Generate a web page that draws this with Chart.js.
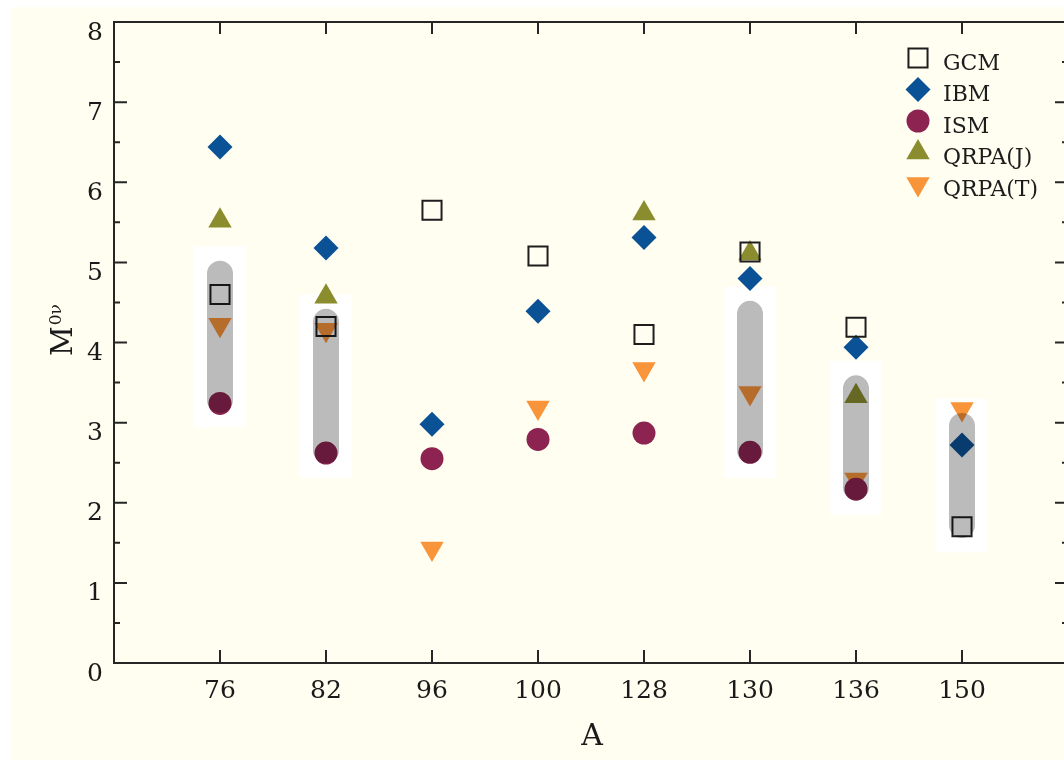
<!DOCTYPE html>
<html>
<head>
<meta charset="utf-8">
<title>M0v vs A</title>
<script src="https://cdn.jsdelivr.net/npm/chart.js@4/dist/chart.umd.min.js"></script>
<style>
  html, body { margin: 0; padding: 0; background: #ffffff; overflow: hidden; }
  #wrap { position: absolute; left: 0; top: 0; width: 1075px; height: 760px; }
</style>
</head>
<body>
<div id="wrap"><canvas id="chart" width="1075" height="760"></canvas></div>
<script>
// 質量数 A（横軸カテゴリ）
const categories = ['76', '82', '96', '100', '128', '130', '136', '150'];

// 各模型の M0v 値
const gcm   = [4.60, 4.20, 5.65, 5.08, 4.10, 5.13, 4.19, 1.70];
const ibm   = [6.44, 5.18, 2.98, 4.39, 5.31, 4.80, 3.94, 2.72];
const ism   = [3.24, 2.62, 2.55, 2.79, 2.87, 2.63, 2.17, null];
const qrpaJ = [5.52, 4.57, null, null, 5.61, 5.11, 3.33, null];
const qrpaT = [4.22, 4.16, 1.43, 3.19, 3.67, 3.37, 2.29, 3.17];

// 灰色の帯（範囲）
const bandLow  = [3.12, 2.49, null, null, null, 2.49, 2.03, 1.56];
const bandHigh = [5.02, 4.42, null, null, null, 4.52, 3.59, 3.12];

// 縦軸目盛
const yTicks = [0, 1, 2, 3, 4, 5, 6, 7, 8];

const WHITE_PAD = 0.18;
const SERIF = "'DejaVu Serif', 'Liberation Serif', serif";

function toPoints(values) {
  return categories
    .map((c, i) => ({ x: c, y: values[i] }))
    .filter(p => p.y !== null);
}

function toRanges(lo, hi, pad) {
  return categories
    .map((c, i) => (lo[i] === null ? null : { x: c, y: [lo[i] - pad, hi[i] + pad] }))
    .filter(p => p !== null);
}

// 背景（クリーム色）
const backgroundPlugin = {
  id: 'paper',
  beforeDraw(chart) {
    const ctx = chart.ctx;
    ctx.save();
    ctx.fillStyle = '#fffef1';
    ctx.fillRect(12, 7, chart.width - 12, chart.height - 7);
    ctx.restore();
  }
};

// 帯は乗算で重ねる
const blendPlugin = {
  id: 'blend',
  beforeDatasetDraw(chart, args) {
    if (chart.data.datasets[args.index].isBand) {
      chart.ctx.save();
      chart.ctx.globalCompositeOperation = 'multiply';
    }
  },
  afterDatasetDraw(chart, args) {
    if (chart.data.datasets[args.index].isBand) {
      chart.ctx.restore();
    }
  }
};

// 枠と内向きの目盛
const framePlugin = {
  id: 'frame',
  afterDraw(chart) {
    const { ctx, chartArea: a, scales } = chart;
    const x = scales.x, y = scales.y;
    ctx.save();
    ctx.strokeStyle = '#262626';
    ctx.lineWidth = 2;
    ctx.beginPath();
    ctx.rect(a.left, a.top, a.right - a.left, a.bottom - a.top);
    ctx.stroke();

    ctx.beginPath();
    for (let v = y.min; v <= y.max; v += 0.5) {
      const py = y.getPixelForValue(v);
      const len = Number.isInteger(v) ? 13 : 6;
      ctx.moveTo(a.left, py); ctx.lineTo(a.left + len, py);
      ctx.moveTo(a.right, py); ctx.lineTo(a.right - len, py);
    }
    categories.forEach(c => {
      const px = x.getPixelForValue(chart.data.labels.indexOf(c));
      ctx.moveTo(px, a.bottom); ctx.lineTo(px, a.bottom - 13);
      ctx.moveTo(px, a.top); ctx.lineTo(px, a.top + 12);
    });
    ctx.stroke();

    // 軸タイトル
    ctx.fillStyle = '#1a1a1a';
    ctx.textAlign = 'center';
    ctx.textBaseline = 'middle';
    ctx.font = '30px ' + SERIF;
    ctx.fillText('A', (a.left + a.right) / 2 + 1, 737);

    ctx.translate(72, 356);
    ctx.rotate(-Math.PI / 2);
    ctx.textAlign = 'left';
    ctx.textBaseline = 'alphabetic';
    ctx.font = '29px ' + SERIF;
    ctx.fillText('M', 0, 0);
    const w = ctx.measureText('M').width;
    ctx.font = '17px ' + SERIF;
    ctx.fillText('0ν', w + 1, -11);
    ctx.restore();
  }
};

// 凡例（右上）
const legendPlugin = {
  id: 'cornerLegend',
  afterDraw(chart) {
    const ctx = chart.ctx;
    const items = chart.data.datasets.filter(d => d.inLegend);
    items.forEach((d, i) => {
      const cy = 58 + i * 31.5;
      ctx.save();
      ctx.fillStyle = d.pointBackgroundColor;
      ctx.strokeStyle = d.pointBorderColor;
      ctx.lineWidth = d.pointBorderWidth;
      Chart.helpers.drawPoint(ctx, {
        pointStyle: d.pointStyle,
        radius: d.pointRadius,
        rotation: d.pointRotation || 0,
        borderWidth: d.pointBorderWidth
      }, 918, cy);
      ctx.fillStyle = '#1c1c1c';
      ctx.font = '22px ' + SERIF;
      ctx.textAlign = 'left';
      ctx.textBaseline = 'middle';
      ctx.fillText(d.label, 943, cy + 6);
      ctx.restore();
    });
  }
};

function pointSet(label, values, style, radius, fill, stroke, borderWidth, rotation) {
  return {
    type: 'line',
    label: label,
    data: toPoints(values),
    showLine: false,
    inLegend: true,
    pointStyle: style,
    pointRadius: radius,
    pointHoverRadius: radius,
    pointRotation: rotation || 0,
    pointBackgroundColor: fill,
    pointBorderColor: stroke,
    pointBorderWidth: borderWidth,
    borderColor: stroke,
    backgroundColor: fill,
    order: 2
  };
}

const datasets = [
  pointSet('GCM', gcm, 'rect', 13.5, 'rgba(0,0,0,0)', '#1e1e1e', 2),
  pointSet('IBM', ibm, 'rectRot', 12.5, '#0b5196', '#0b5196', 0),
  pointSet('ISM', ism, 'circle', 11.5, '#8c2350', '#8c2350', 0),
  pointSet('QRPA(J)', qrpaJ, 'triangle', 13.5, '#8a8c2e', '#8a8c2e', 0),
  pointSet('QRPA(T)', qrpaT, 'triangle', 13.5, '#f8943a', '#f8943a', 0, 180),
  {
    type: 'bar',
    label: 'white',
    data: toRanges(bandLow, bandHigh, WHITE_PAD),
    grouped: false,
    backgroundColor: '#ffffff',
    borderWidth: 0,
    barPercentage: 0.49,
    categoryPercentage: 1,
    order: 3
  },
  {
    type: 'bar',
    label: 'band',
    isBand: true,
    data: toRanges(bandLow, bandHigh, 0),
    grouped: false,
    backgroundColor: '#bbbbbb',
    borderWidth: 0,
    borderRadius: 20,
    borderSkipped: false,
    barPercentage: 0.245,
    categoryPercentage: 1,
    order: 1
  }
];

new Chart(document.getElementById('chart'), {
  type: 'line',
  data: {
    labels: ['', ...categories, ''],
    datasets: datasets
  },
  options: {
    responsive: false,
    animation: false,
    events: [],
    layout: { padding: { left: 0, top: 22, right: 7, bottom: 0 }, autoPadding: false },
    plugins: {
      legend: { display: false },
      tooltip: { enabled: false }
    },
    scales: {
      x: {
        type: 'category',
        offset: false,
        grid: { display: false, drawTicks: false },
        border: { display: false },
        ticks: {
          color: '#1a1a1a',
          font: { family: SERIF, size: 25 },
          padding: 13,
          maxRotation: 0,
          autoSkip: false
        },
        afterFit(scale) {
          scale.height = 97;
          scale.paddingLeft = 0;
          scale.paddingRight = 0;
        }
      },
      y: {
        min: 0,
        max: 8,
        grid: { display: false, drawTicks: false },
        border: { display: false },
        afterBuildTicks(scale) { scale.ticks = yTicks.map(v => ({ value: v })); },
        ticks: {
          color: '#1a1a1a',
          font: { family: SERIF, size: 25 },
          padding: 11,
          labelOffset: 11
        },
        afterFit(scale) {
          scale.width = 114;
          scale.paddingTop = 0;
          scale.paddingBottom = 0;
        }
      }
    }
  },
  plugins: [backgroundPlugin, blendPlugin, framePlugin, legendPlugin]
});
</script>
</body>
</html>
